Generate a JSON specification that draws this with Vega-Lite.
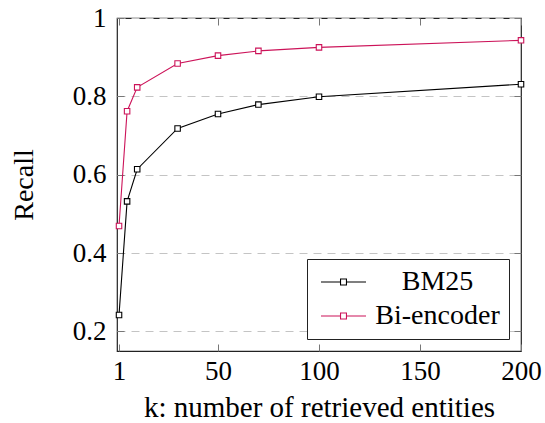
{
  "$schema": "https://vega.github.io/schema/vega-lite/v6.json",
  "width": 404,
  "height": 333,
  "autosize": {"type": "none"},
  "padding": {"left": 117, "top": 18, "right": 24, "bottom": 72},
  "background": "white",
  "config": {
    "font": "Liberation Serif",
    "view": {"stroke": "#222222", "strokeWidth": 1.2},
    "axis": {
      "labelFont": "Liberation Serif",
      "titleFont": "Liberation Serif",
      "labelFontSize": 27,
      "titleFontSize": 27,
      "labelColor": "black",
      "titleColor": "black",
      "titleFontWeight": "normal",
      "domain": false,
      "tickColor": "#777777",
      "tickWidth": 1,
      "tickSize": -7
    },
    "legend": {
      "labelFont": "Liberation Serif",
      "labelFontSize": 28,
      "labelColor": "black"
    }
  },
  "data": {
    "values": [
      {"k": 1, "recall": 0.242, "model": "BM25"},
      {"k": 5, "recall": 0.532, "model": "BM25"},
      {"k": 10, "recall": 0.614, "model": "BM25"},
      {"k": 30, "recall": 0.718, "model": "BM25"},
      {"k": 50, "recall": 0.755, "model": "BM25"},
      {"k": 70, "recall": 0.779, "model": "BM25"},
      {"k": 100, "recall": 0.799, "model": "BM25"},
      {"k": 200, "recall": 0.831, "model": "BM25"},
      {"k": 1, "recall": 0.469, "model": "Bi-encoder"},
      {"k": 5, "recall": 0.762, "model": "Bi-encoder"},
      {"k": 10, "recall": 0.823, "model": "Bi-encoder"},
      {"k": 30, "recall": 0.884, "model": "Bi-encoder"},
      {"k": 50, "recall": 0.904, "model": "Bi-encoder"},
      {"k": 70, "recall": 0.916, "model": "Bi-encoder"},
      {"k": 100, "recall": 0.925, "model": "Bi-encoder"},
      {"k": 200, "recall": 0.943, "model": "Bi-encoder"}
    ]
  },
  "layer": [
    {
      "mark": {"type": "line", "strokeWidth": 1.1},
      "encoding": {
        "x": {
          "field": "k", "type": "quantitative",
          "scale": {"domain": [0, 200], "nice": false, "zero": false},
          "axis": {
            "orient": "bottom", "values": [1, 50, 100, 150, 200],
            "grid": false, "labelPadding": 14, "labelFlush": false,
            "titleFontSize": 29,
            "title": "k: number of retrieved entities", "titlePadding": 9
          }
        },
        "y": {
          "field": "recall", "type": "quantitative",
          "scale": {"domain": [0.15, 1], "nice": false, "zero": false},
          "axis": {
            "orient": "left", "values": [0.2, 0.4, 0.6, 0.8, 1],
            "format": ".1~f", "grid": true, "gridDash": [8, 6],
            "gridColor": "#c4c4c4", "gridWidth": 1,
            "titleFontSize": 28,
            "labelPadding": 18, "title": "Recall", "titlePadding": 34
          }
        },
        "color": {
          "field": "model", "type": "nominal",
          "scale": {"domain": ["BM25", "Bi-encoder"], "range": ["#000000", "#cc1359"]},
          "legend": {
            "title": null,
            "orient": "bottom-right",
            "offset": 12,
            "strokeColor": "#222222",
            "fillColor": "white",
            "padding": 9,
            "symbolType": "M-2.5,0H-0.33M0.33,0H2.5M-0.33,-0.33H0.33V0.33H-0.33Z",
            "symbolSize": 324,
            "symbolStrokeWidth": 1.1,
            "symbolFillColor": "white",
            "symbolOffset": 13.5,
            "labelOffset": 80,
            "labelAlign": "center",
            "rowPadding": 6
          }
        }
      }
    },
    {
      "mark": {"type": "point", "shape": "square", "filled": true, "fill": "white", "size": 30, "strokeWidth": 1.1, "opacity": 1},
      "encoding": {
        "x": {
          "field": "k", "type": "quantitative",
          "axis": {"orient": "top", "values": [1, 50, 100, 150, 200], "labels": false, "grid": false, "title": null}
        },
        "y": {
          "field": "recall", "type": "quantitative",
          "axis": {"orient": "right", "values": [0.2, 0.4, 0.6, 0.8, 1], "labels": false, "grid": false, "title": null}
        },
        "stroke": {"field": "model", "type": "nominal", "scale": {"domain": ["BM25", "Bi-encoder"], "range": ["#000000", "#cc1359"]}, "legend": null}
      }
    }
  ],
  "resolve": {"axis": {"x": "independent", "y": "independent"}}
}
